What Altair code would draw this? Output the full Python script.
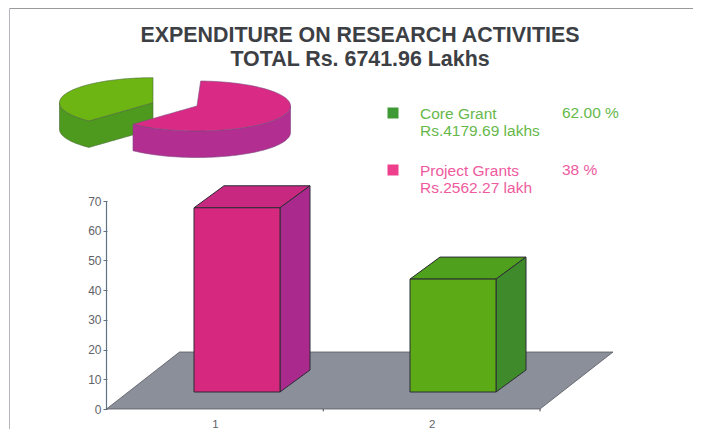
import math
import altair as alt
import pandas as pd

# ---- values ----
CATEGORIES = [1, 2]
BAR_VALUES = [62, 38]           # bar heights
BAR_COLOURS = [("#d6287f", "#a92a8c", "#c8287f"), ("#5cab16", "#3f8b2c", "#4fa01c")]
Y_TICKS = [0, 10, 20, 30, 40, 50, 60, 70]
PIE_SHARES = [62, 38]           # magenta, green
TITLE_LINES = ["EXPENDITURE ON RESEARCH ACTIVITIES", "TOTAL Rs. 6741.96 Lakhs"]
LEGEND_NAMES = ["Core Grant", "Project Grants"]
LEGEND_AMOUNTS = ["Rs.4179.69 lakhs", "Rs.2562.27 lakh"]
LEGEND_SHARES = ["62.00 %", "38 %"]

W, H = 685, 421
Y_UNIT = 208 / 70      # px per y unit
X_UNIT = 216.75        # px per x unit
def dx(px): return 0.5 + (px - 106.5) / X_UNIT      # page px -> x data
def dy(py): return (409 - py) / Y_UNIT              # page py -> y data

X_SCALE = alt.Scale(domain=[dx(8), dx(8 + W)], nice=False, zero=False)
Y_SCALE = alt.Scale(domain=[dy(8 + H), dy(8)], nice=False, zero=False)
INK = "#2c2c34"

X_AXIS = alt.Axis(
    values=CATEGORIES, format="d", title=None, grid=False, domain=False, ticks=False,
    offset=-(8 + H - 409), labelPadding=9, labelFontSize=11.5, labelColor="#5f6368", labelFont="Liberation Sans")
Y_AXIS = alt.Axis(
    values=Y_TICKS, format="d", title=None, grid=False, domain=False, tickSize=4, tickColor="#5f6f7d",
    offset=-(107 - 8), labelPadding=2, labelFontSize=12, labelColor="#5f6368", labelFont="Liberation Sans")

def X(field="x"):
    return alt.X(f"{field}:Q", scale=X_SCALE, axis=X_AXIS)

def Y(field="y"):
    return alt.Y(f"{field}:Q", scale=Y_SCALE, axis=Y_AXIS)

def area_v(rows, fill, stroke=INK, sw=1):
    """rows: x, y, y2 in data units."""
    df = pd.DataFrame(rows, columns=["x", "y", "y2"])
    return alt.Chart(df).mark_area(fill=fill, stroke=stroke, strokeWidth=sw, opacity=1).encode(
        x=X(), y=Y(), y2="y2:Q")

def area_h(rows, fill, stroke=INK, sw=1):
    """rows: y, x, x2 in data units (horizontal edges)."""
    df = pd.DataFrame(rows, columns=["y", "x", "x2"])
    return alt.Chart(df).mark_area(orient="horizontal", fill=fill, stroke=stroke, strokeWidth=sw, opacity=1).encode(
        y=Y(), x=X(), x2="x2:Q")

layers = []

# y axis line and x ticks
layers.append(alt.Chart(pd.DataFrame({"x": [0.5], "y": [0], "y2": [70]})).mark_rule(color="#5f7485", strokeWidth=1.2).encode(
    x=X(), y=Y(), y2="y2:Q"))
layers.append(alt.Chart(pd.DataFrame({"x": [1.5, 2.5], "y": [0, 0], "y2": [-0.8, -0.8]})).mark_rule(color="#444", strokeWidth=1).encode(
    x=X(), y=Y(), y2="y2:Q"))

# floor
FLOOR_DX, FLOOR_DY = 73 / X_UNIT, 57 / Y_UNIT
layers.append(area_h([(0, 0.5, 2.5), (FLOOR_DY, 0.5 + FLOOR_DX, 2.5 + FLOOR_DX)], "#8b8f99", "#55585f", 0.8))

# bars
BAR_BASE = dy(392)
DEPTH_X, DEPTH_Y = 30 / X_UNIT, 22 / Y_UNIT
BAR_HALF = 43 / X_UNIT
BAR_CENTRES = [dx(237), dx(453)]
for c, v, (front, side, top) in zip(BAR_CENTRES, BAR_VALUES, BAR_COLOURS):
    l, r = c - BAR_HALF, c + BAR_HALF
    t = BAR_BASE + v
    layers.append(area_h([(t, l, r), (t + DEPTH_Y, l + DEPTH_X, r + DEPTH_X)], top))
    layers.append(area_v([(r, BAR_BASE, t), (r + DEPTH_X, BAR_BASE + DEPTH_Y, t + DEPTH_Y)], side))
    layers.append(area_v([(l, BAR_BASE, t), (r, BAR_BASE, t)], front))

# pie (elliptical, exploded); geometry driven by the shares
A, B, DEPTH = 93.5, 25, 26.5
split = 2 * math.pi * PIE_SHARES[0] / sum(PIE_SHARES)   # clockwise from the top

def ell(cx, cy, t):
    return cx + A * math.sin(t), cy - B * math.cos(t)

def lower_y(cx, cy, x):
    u = max(0.0, 1 - ((x - cx) / A) ** 2)
    return cy + B * math.sqrt(u)

def upper_y(cx, cy, x):
    u = max(0.0, 1 - ((x - cx) / A) ** 2)
    return cy - B * math.sqrt(u)

def D(rows):
    return [(dx(a), dy(b), dy(c)) for a, b, c in rows]

# green slice
gcx, gcy = 153, 102.7
gx0 = gcx - A
gxs, _ = ell(gcx, gcy, split)
xs_left = [gx0 + (gxs - gx0) * (i / 20) ** 2 for i in range(21)]
xs_right = [gxs + (gcx - gxs) * i / 30 for i in range(31)]
def gline(x):
    return lower_y(gcx, gcy, gxs) + (gcy - lower_y(gcx, gcy, gxs)) * (x - gxs) / (gcx - gxs)
side_rows = [(x, lower_y(gcx, gcy, x), lower_y(gcx, gcy, x) + DEPTH) for x in xs_left]
side_rows += [(x, gline(x), gline(x) + DEPTH) for x in xs_right[1:]]
layers.append(area_v(D(side_rows), "#4e9a1e", "#4a6a3a", 0.6))
top_rows = [(x, upper_y(gcx, gcy, x), lower_y(gcx, gcy, x)) for x in xs_left]
top_rows += [(x, upper_y(gcx, gcy, x), gline(x)) for x in xs_right[1:]]
layers.append(area_v(D(top_rows), "#6db512", "#4a6a3a", 0.6))

# magenta slice
mcx, mcy = 197, 106
mxs, _ = ell(mcx, mcy, split)
xs_a = [mxs + (mcx - mxs) * i / 30 for i in range(31)]
xs_b = [mcx + A * math.sin(math.pi / 2 * i / 40) for i in range(41)]
def mline(x):
    return lower_y(mcx, mcy, mxs) + (mcy - lower_y(mcx, mcy, mxs)) * (x - mxs) / (mcx - mxs)
layers.append(area_v(D([(x, lower_y(mcx, mcy, x), lower_y(mcx, mcy, x) + DEPTH) for x in xs_a + xs_b[1:]]), "#b22e90", "#7a4a80", 0.6))
layers.append(area_v(D([(x, mline(x), lower_y(mcx, mcy, x)) for x in xs_a] +
                       [(x, upper_y(mcx, mcy, x), lower_y(mcx, mcy, x)) for x in xs_b[1:]]), "#d92b85", "#7a4a80", 0.6))

# frame: top rule and left rule
layers.append(alt.Chart(pd.DataFrame({"x": [dx(9.5)], "x2": [dx(8 + W)], "y": [dy(8.5)]})).mark_rule(color="#9a9a9a", strokeWidth=1).encode(
    x=X(), x2="x2:Q", y=Y()))
layers.append(alt.Chart(pd.DataFrame({"x": [dx(9.5)], "y": [dy(8.5)], "y2": [dy(8 + H)]})).mark_rule(color="#b4b8bc", strokeWidth=1).encode(
    x=X(), y=Y(), y2="y2:Q"))

# legend
def txt(s, px, py, colour, size=15.5):
    return alt.Chart(pd.DataFrame({"t": [s]})).mark_text(
        align="left", baseline="alphabetic", font="Liberation Sans", fontSize=size, color=colour,
        x=px - 8, y=py - 8).encode(text="t:N")

GREEN, PINK = "#66b84a", "#ee5a9e"
for name, amount, share, py, col in zip(LEGEND_NAMES, LEGEND_AMOUNTS, LEGEND_SHARES, [119, 176], [GREEN, PINK]):
    layers.append(txt(name, 420, py, col))
    layers.append(txt(amount, 420, py + 16.5, col))
    layers.append(txt(share, 562, py - 1, col))
for py, col in zip([113, 170], ["#3f9a35", "#ee3f8c"]):
    layers.append(alt.Chart(pd.DataFrame({"x": [dx(393)], "y": [dy(py)]})).mark_square(size=121, color=col, opacity=1).encode(
        x=X(), y=Y()))

chart = alt.layer(*layers).properties(
    width=W, height=H,
    padding=0,
    autosize=alt.AutoSizeParams(type="none"),
    background="#ffffff",
    title=alt.TitleParams(
        text=TITLE_LINES, anchor="middle", font="Liberation Sans", fontSize=21.4, fontWeight="bold",
        color="#3c4044", lineHeight=24, offset=-62, dx=9.5),
).configure_view(stroke=None)

chart.save("out.html", embed_options={"renderer": "svg", "actions": False})
